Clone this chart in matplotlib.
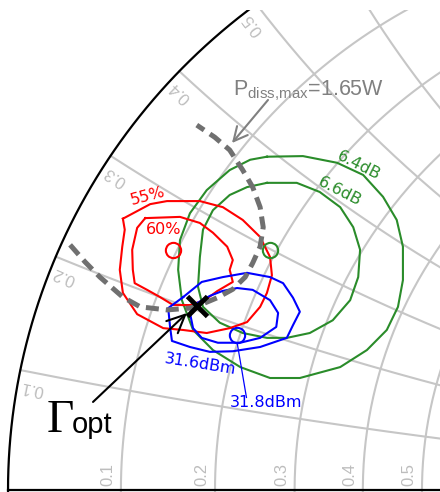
import numpy as np
import matplotlib
matplotlib.use('Agg')
import matplotlib.pyplot as plt

plt.rcParams['mathtext.fontset'] = 'custom'
plt.rcParams['mathtext.rm'] = 'Liberation Sans'

# smith chart grid values
r_grid = [0.1, 0.2, 0.3, 0.4, 0.5]
x_grid = [0.1, 0.2, 0.3, 0.4, 0.5, 0.6]

eff55_re = [-0.815, -0.771, -0.744, -0.691, -0.654, -0.622, -0.594, -0.578, -0.575, -0.583, -0.594,
            -0.615, -0.643, -0.680, -0.718, -0.750, -0.792, -0.815, -0.820, -0.816, -0.812]
eff55_im = [0.447, 0.471, 0.476, 0.476, 0.466, 0.445, 0.417, 0.384, 0.354, 0.325, 0.302,
            0.277, 0.267, 0.259, 0.264, 0.267, 0.290, 0.325, 0.363, 0.401, 0.429]
eff60_re = [-0.779, -0.723, -0.691, -0.670, -0.647, -0.638, -0.643, -0.638, -0.663, -0.683, -0.707,
            -0.734, -0.755, -0.776, -0.796, -0.799, -0.800, -0.792]
eff60_im = [0.448, 0.450, 0.440, 0.424, 0.401, 0.379, 0.363, 0.343, 0.328, 0.313, 0.305,
            0.305, 0.318, 0.330, 0.341, 0.363, 0.396, 0.432]
gain64_re = [-0.583, -0.525, -0.470, -0.428, -0.396, -0.374, -0.364, -0.364, -0.372, -0.390, -0.422, -0.465,
             -0.530, -0.578, -0.626, -0.670, -0.702, -0.720, -0.726, -0.723, -0.707, -0.680, -0.643, -0.610]
gain64_im = [0.549, 0.550, 0.539, 0.519, 0.483, 0.445, 0.401, 0.346, 0.302, 0.264, 0.231, 0.203,
             0.185, 0.185, 0.203, 0.231, 0.264, 0.313, 0.363, 0.412, 0.456, 0.494, 0.527, 0.544]
gain66_re = [-0.583, -0.535, -0.498, -0.465, -0.444, -0.433, -0.436, -0.449, -0.477, -0.514, -0.551,
             -0.583, -0.622, -0.659, -0.686, -0.694, -0.691, -0.686, -0.670, -0.643, -0.615]
gain66_im = [0.506, 0.506, 0.491, 0.466, 0.433, 0.396, 0.351, 0.313, 0.280, 0.259, 0.251,
             0.251, 0.259, 0.276, 0.302, 0.335, 0.384, 0.429, 0.461, 0.486, 0.499]
pout316_re = [-0.718, -0.688, -0.654, -0.615, -0.578, -0.557, -0.541, -0.530, -0.541, -0.551, -0.594,
              -0.638, -0.675, -0.707, -0.736, -0.739, -0.742]
pout316_im = [0.318, 0.343, 0.351, 0.358, 0.351, 0.341, 0.317, 0.294, 0.272, 0.251, 0.236,
              0.229, 0.228, 0.236, 0.246, 0.269, 0.300]
pout318_re = [-0.696, -0.675, -0.655, -0.631, -0.606, -0.578, -0.565, -0.568, -0.594, -0.626, -0.662,
              -0.688, -0.702, -0.707]
pout318_im = [0.308, 0.320, 0.328, 0.333, 0.330, 0.313, 0.292, 0.269, 0.251, 0.243, 0.243,
              0.251, 0.267, 0.292]
pdiss_re = [-0.900, -0.876, -0.852, -0.815, -0.787, -0.744, -0.707, -0.691, -0.663, -0.638, -0.618,
            -0.606, -0.594, -0.589, -0.594, -0.606, -0.622, -0.643, -0.667, -0.696]
pdiss_im = [0.404, 0.376, 0.351, 0.318, 0.302, 0.297, 0.300, 0.305, 0.317, 0.331, 0.351,
            0.374, 0.401, 0.433, 0.466, 0.499, 0.527, 0.560, 0.581, 0.601]

# optimum points
eff_max = (-0.734, 0.396)
gain_max = (-0.578, 0.396)
pout_max = (-0.631, 0.256)
gamma_opt = (-0.696, 0.304)

grid_col = '#c6c6c6'
red = '#ff0000'
green = '#2a8c2a'
blue = '#0000ff'

fig = plt.figure(figsize=(4.4, 4.92), dpi=100)
ax = fig.add_axes([0, 0, 1, 482 / 492])
ax.set_xlim(-1.0129, -0.3043)
ax.set_ylim(-0.0025, 0.7903)
ax.axis('off')

t = np.linspace(0, 2 * np.pi, 721)
for r in r_grid:
    c, rad = r / (1 + r), 1 / (1 + r)
    ax.plot(c + rad * np.cos(t), rad * np.sin(t), color=grid_col, lw=1.5)
    ax.text((r - 1) / (r + 1) - 0.021, 0.027, str(r), rotation=90, ha='center', va='center',
            color='#bdbdbd', fontsize=12, family='Liberation Sans')
for x in x_grid:
    th = np.pi - 2 * np.arctan(x)
    p0 = np.array([np.cos(th), np.sin(th)])
    a0 = np.arctan2(p0[1] - 1 / x, p0[0] - 1)
    phi = np.linspace(a0, -np.pi / 2, 400)
    ax.plot(1 + np.cos(phi) / x, 1 / x + np.sin(phi) / x, color=grid_col, lw=1.5)
    tv = -p0
    nv = np.array([-np.sin(th), np.cos(th)])
    lp = p0 + 0.0245 * tv + 0.0245 * nv
    if lp[1] < 0.79:
        ax.text(lp[0], lp[1], str(x), rotation=np.degrees(th), rotation_mode='anchor',
                ha='center', va='center', color='#bdbdbd', fontsize=12, family='Liberation Sans')

# outer circle and real axis
ax.plot(np.cos(t), np.sin(t), color='black', lw=1.6)
ax.plot([-1, 1], [0, 0], color='black', lw=1.6)


def closed(a, b):
    return np.append(a, a[0]), np.append(b, b[0])


for cre, cim, col in [(gain64_re, gain64_im, green), (gain66_re, gain66_im, green),
                      (eff55_re, eff55_im, red), (eff60_re, eff60_im, red),
                      (pout316_re, pout316_im, blue), (pout318_re, pout318_im, blue)]:
    xx, yy = closed(cre, cim)
    ax.plot(xx, yy, color=col, lw=1.5)

for pt, col in [(eff_max, red), (gain_max, green), (pout_max, blue)]:
    ax.plot(pt[0], pt[1], marker='o', ms=11, mfc='none', mec=col, mew=1.5)

ax.plot(pdiss_re, pdiss_im, color='#707070', lw=3.6, dashes=(2.6, 1.4), dash_capstyle='butt')

ax.plot(gamma_opt[0], gamma_opt[1], marker='x', ms=14, mew=3.5, color='black')

# labels
ax.text(-0.7746, 0.4844, '55%', color=red, fontsize=11.5, rotation=15, ha='center', va='center',
        rotation_mode='anchor')
ax.text(-0.7488, 0.4285, '60%', color=red, fontsize=11.5, ha='center', va='center')
ax.text(-0.4348, 0.5337, '6.4dB', color=green, fontsize=11.5, rotation=-27, ha='center', va='center',
        rotation_mode='anchor')
ax.text(-0.4654, 0.4910, '6.6dB', color=green, fontsize=11.5, rotation=-27, ha='center', va='center',
        rotation_mode='anchor')
ax.text(-0.6908, 0.2080, '31.6dBm', color=blue, fontsize=11.5, rotation=-9, ha='center', va='center',
        rotation_mode='anchor')
ax.text(-0.5845, 0.1439, '31.8dBm', color=blue, fontsize=11.5, ha='center', va='center')
ax.plot([pout_max[0], -0.616], [pout_max[1] - 0.013, 0.153], color=blue, lw=0.9)

ax.text(-0.6377, 0.6505, r'P$_{\mathrm{diss{,}max}}$=1.65W', color='#808080', fontsize=15.5,
        family='Liberation Sans', ha='left', va='baseline')
ax.annotate('', xy=(-0.6393, 0.5715), xytext=(-0.5813, 0.6423),
            arrowprops=dict(arrowstyle='->,head_length=0.5,head_width=0.25', color='#808080',
                            lw=1.5, shrinkA=0, shrinkB=0, mutation_scale=20))

ax.text(-0.9372, 0.0962, '\u0393', fontsize=34, family='Liberation Serif', ha='left', va='baseline')
ax.text(-0.8970, 0.0946, 'opt', fontsize=21, family='Liberation Sans', ha='left', va='baseline')
ax.annotate('', xy=(-0.7118, 0.2919), xytext=(-0.8631, 0.1456),
            arrowprops=dict(arrowstyle='->,head_length=0.65,head_width=0.3', color='black',
                            lw=1.5, shrinkA=0, shrinkB=0, mutation_scale=20))

fig.savefig('out.png', dpi=100)
